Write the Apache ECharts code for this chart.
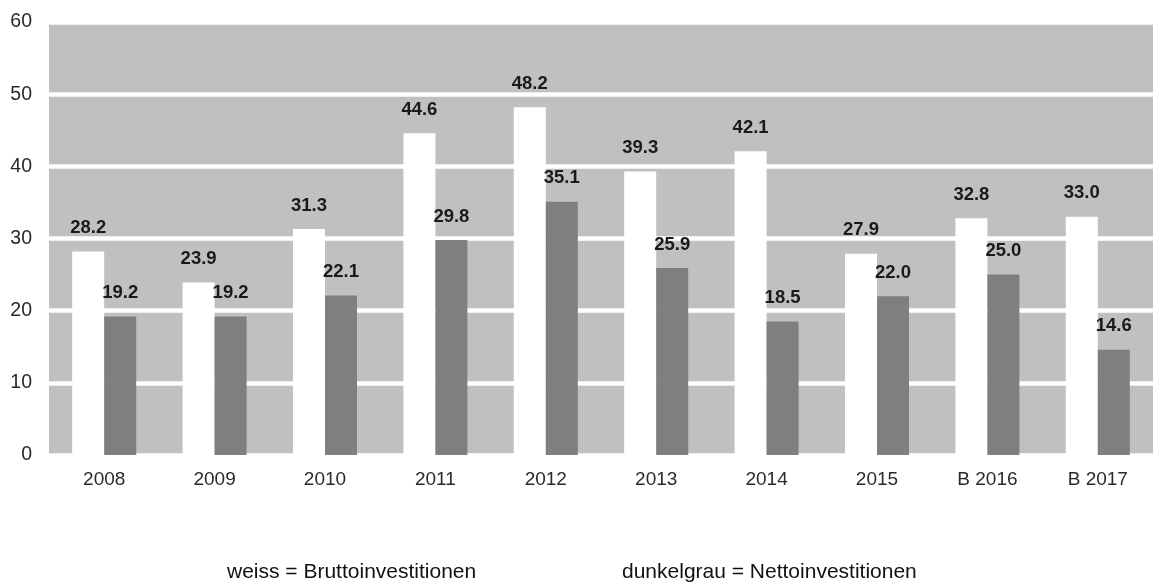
<!DOCTYPE html>
<html>
<head>
<meta charset="utf-8">
<script src="https://cdn.jsdelivr.net/npm/echarts@6/dist/echarts.min.js"></script>
<style>
  html, body { margin: 0; padding: 0; background: #ffffff; }
  #chart { width: 1153px; height: 585px; }
</style>
</head>
<body>
<div id="chart"></div>
<script>
// Investitionen in Mio., Jahre 2008 bis Budget 2017
const categories = ['2008', '2009', '2010', '2011', '2012', '2013', '2014', '2015', 'B 2016', 'B 2017'];
const brutto = [28.2, 23.9, 31.3, 44.6, 48.2, 39.3, 42.1, 27.9, 32.8, 33.0];
const netto  = [19.2, 19.2, 22.1, 29.8, 35.1, 25.9, 18.5, 22.0, 25.0, 14.6];
const yTicks = { min: 0, max: 60, interval: 10 };
const legendTexts = ['weiss = Bruttoinvestitionen', 'dunkelgrau = Nettoinvestitionen'];

const FONT = '"Liberation Sans", Arial, sans-serif';

const chart = echarts.init(document.getElementById('chart'), null, { renderer: 'canvas' });

const valueLabel = {
  show: true,
  position: 'top',
  distance: 14,
  fontFamily: FONT,
  fontWeight: 'bold',
  fontSize: 18.5,
  color: '#1a1a1a',
  formatter: p => p.value.toFixed(1)
};

chart.setOption({
  animation: false,
  backgroundColor: '#ffffff',
  grid: {
    left: 49, right: 0, top: 22, bottom: 130,
    show: true,
    backgroundColor: '#c0c0c0',
    borderWidth: 0
  },
  xAxis: {
    type: 'category',
    data: categories,
    axisLine: { show: false },
    axisTick: { show: false },
    axisLabel: { fontFamily: FONT, fontSize: 19, color: '#2a2a2a', margin: 15 }
  },
  yAxis: {
    type: 'value',
    min: yTicks.min, max: yTicks.max, interval: yTicks.interval,
    axisLine: { show: false },
    axisTick: { show: false },
    axisLabel: { fontFamily: FONT, fontSize: 19.5, color: '#2a2a2a', margin: 17 },
    splitLine: { show: true, lineStyle: { color: '#ffffff', width: 4.5 } }
  },
  series: [
    {
      name: 'Bruttoinvestitionen',
      type: 'bar',
      data: brutto,
      barWidth: 32,
      barGap: '0%',
      itemStyle: { color: '#ffffff' },
      label: valueLabel,
      z: 3
    },
    {
      name: 'Nettoinvestitionen',
      type: 'bar',
      data: netto,
      barWidth: 32,
      barGap: '0%',
      itemStyle: { color: '#7f7f7f' },
      label: valueLabel,
      z: 3
    }
  ],
  graphic: [
    {
      type: 'text', left: 227, top: 562,
      style: { text: legendTexts[0], font: '21px ' + FONT, fill: '#111111' }
    },
    {
      type: 'text', left: 622, top: 562,
      style: { text: legendTexts[1], font: '21px ' + FONT, fill: '#111111' }
    }
  ]
});
</script>
</body>
</html>
